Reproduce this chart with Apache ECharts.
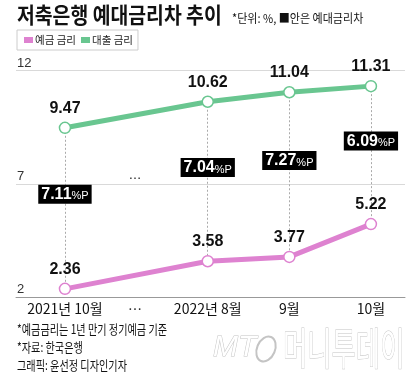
<!DOCTYPE html>
<html><head><meta charset="utf-8">
<script src="https://cdn.jsdelivr.net/npm/echarts@6/dist/echarts.min.js"></script>
<style>html,body{margin:0;padding:0;background:#fff}#c{width:420px;height:376px}</style>
</head><body><div id="c"></div>
<script>
// ---- data ----
const categories = ['2021년 10월', '2022년 8월', '9월', '10월'];
const xSlot = [0, 7, 11, 15];           // placement of each period on the (gapped) time line
const ellipsisSlot = 3.43;              // the omitted months "…"
const depositRate = [2.36, 3.58, 3.77, 5.22];   // 예금 금리
const loanRate = [9.47, 10.62, 11.04, 11.31];   // 대출 금리
const yTicks = [2, 7, 12];

const FONT = '"Liberation Sans Narrow","Liberation Sans","Noto Sans CJK KR",sans-serif';
const KFONT = '"Noto Sans CJK KR",sans-serif';
const GREEN = '#69c690', PINK = '#de82d0';

const loanData = xSlot.map((x, i) => [x, loanRate[i]]);
const depData = xSlot.map((x, i) => [x, depositRate[i]]);
const gapData = xSlot.map((x, i) => [x, (loanRate[i] + depositRate[i]) / 2, +(loanRate[i] - depositRate[i]).toFixed(2)]);
const labelMap = {};
xSlot.forEach((x, i) => labelMap[x] = categories[i]);
labelMap[ellipsisSlot] = '…';

function txt(x, y, text, style, sx) {
  return { type: 'text', x: x, y: y, scaleX: sx || 1, originX: 0, originY: 0,
    style: Object.assign({ text: text, fontFamily: KFONT, fill: '#111', verticalAlign: 'top', align: 'left' }, style) };
}

const chart = echarts.init(document.getElementById('c'));
chart.setOption({
  animation: false,
  backgroundColor: '#fff',
  grid: { left: 16, right: 15, top: 70.5, bottom: 79 },
  legend: {
    data: [
      { name: '예금 금리', itemStyle: { color: PINK, borderWidth: 0 } },
      { name: '대출 금리', itemStyle: { color: GREEN, borderWidth: 0 } }
    ],
    left: 17, top: 30, orient: 'horizontal',
    icon: 'rect', itemWidth: 9, itemHeight: 6, itemGap: 5,
    borderColor: '#ccc', borderWidth: 1, padding: [3, 5, 3, 7],
    textStyle: { fontFamily: KFONT, fontSize: 10.5, color: '#222', lineHeight: 14, padding: [0, 0, 0, -3] }
  },
  xAxis: {
    type: 'value', min: -2.4, max: 16.67,
    axisLine: { show: true, lineStyle: { color: '#999', width: 1 } },
    axisTick: { show: false },
    splitLine: { show: false },
    axisLabel: {
      customValues: xSlot.concat([ellipsisSlot]),
      formatter: v => labelMap[v] || '',
      fontFamily: KFONT, fontSize: 14, color: '#111', margin: 5
    }
  },
  yAxis: {
    type: 'value', min: 2, max: 12, interval: 5,
    axisLine: { show: false }, axisTick: { show: false },
    splitLine: { lineStyle: { color: '#d9d9d9', width: 1 } },
    axisLabel: {
      inside: true, margin: 1, align: 'left', verticalAlign: 'bottom',
      fontFamily: FONT, fontSize: 13, color: '#333', padding: [0, 0, 1, 0]
    }
  },
  graphic: [
    txt(17, 4, '저축은행 예대금리차 추이', { fontSize: 22, fontWeight: 'bold' }, 0.88),
    txt(232, 12, '*단위: %, ■안은 예대금리차', { fontSize: 12 }, 0.92),
    txt(17, 323, '*예금금리는 1년 만기 정기예금 기준', { fontSize: 13 }, 0.78),
    txt(17, 341, '*자료: 한국은행', { fontSize: 13 }, 0.78),
    txt(17, 359, '그래픽: 윤선정 디자인기자', { fontSize: 13 }, 0.78),
    txt(213, 333, 'MT', { fontFamily: FONT, fontStyle: 'italic', fontSize: 30, fill: '#fff', stroke: '#c4c4c4', lineWidth: 1 }, 1),
    { type: 'ellipse', shape: { cx: 266, cy: 349, rx: 9, ry: 13 }, rotation: -0.4, originX: 266, originY: 349,
      style: { fill: 'none', stroke: '#c4c4c4', lineWidth: 2 } },
    txt(283, 326, '머니투데이', { fontSize: 44, fill: '#fff', stroke: '#c4c4c4', lineWidth: 1 }, 0.6)
  ],
  series: [
    {
      name: '대출 금리', type: 'line', data: loanData, z: 3,
      color: GREEN, lineStyle: { width: 5, color: GREEN },
      symbol: 'circle', symbolSize: 11,
      itemStyle: { color: '#fff', borderColor: GREEN, borderWidth: 1.5 },
      label: { show: true, position: 'top', distance: 5, formatter: p => p.value[1].toFixed(2),
        fontFamily: FONT, fontSize: 16, fontWeight: 'bold', color: '#111' },
      markLine: {
        silent: true, symbol: 'none', label: { show: false }, z: 1,
        lineStyle: { type: [2, 2], color: '#aaa', width: 1 },
        data: xSlot.map((x, i) => [{ coord: [x, loanRate[i]] }, { coord: [x, depositRate[i]] }])
      }
    },
    {
      name: '예금 금리', type: 'line', data: depData, z: 3,
      color: PINK, lineStyle: { width: 5, color: PINK },
      symbol: 'circle', symbolSize: 11,
      itemStyle: { color: '#fff', borderColor: PINK, borderWidth: 1.5 },
      label: { show: true, position: 'top', distance: 5, formatter: p => p.value[1].toFixed(2),
        fontFamily: FONT, fontSize: 16, fontWeight: 'bold', color: '#111' }
    },
    {
      name: 'gap', type: 'scatter', data: gapData, symbolSize: 0, z: 5,
      itemStyle: { opacity: 1 },
      label: {
        show: true, position: 'inside', offset: [0, -14], opacity: 1,
        formatter: p => '{v|' + p.value[2].toFixed(2) + '}{p|%P}',
        backgroundColor: '#000', padding: [2, 3, 1, 3],
        rich: {
          v: { fontFamily: FONT, fontSize: 16, fontWeight: 'bold', color: '#fff' },
          p: { fontFamily: FONT, fontSize: 11, color: '#fff', padding: [3, 0, 0, 0] }
        }
      }
    },
    {
      name: 'ellipsis', type: 'scatter', data: [[ellipsisSlot, 7]], symbolSize: 0,
      itemStyle: { opacity: 1 },
      label: { show: true, position: 'top', distance: 2, formatter: '…', fontFamily: FONT, fontSize: 13, color: '#111' }
    }
  ]
});
</script></body></html>
